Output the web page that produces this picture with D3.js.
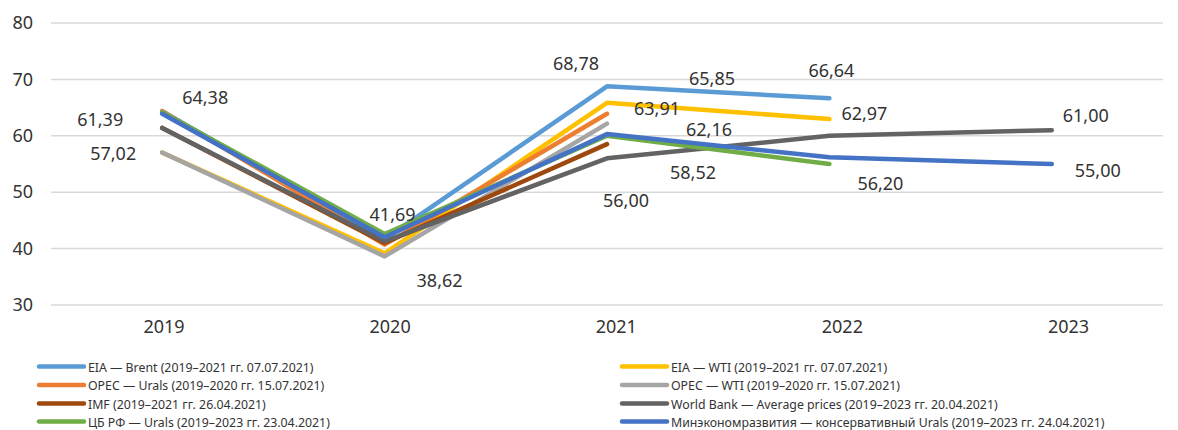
<!DOCTYPE html>
<html>
<head>
<meta charset="utf-8">
<script src="https://cdn.jsdelivr.net/npm/d3@7"></script>
<style>
    body { margin: 0; background: #fff; }
    #chart { width: 1178px; height: 430px; }
    text { font-family: "Noto Sans", "Open Sans", sans-serif; fill: #333; }
</style>
</head>
<body>
<div id="chart"></div>
<script>
// categories and tick labels
const years = ["2019", "2020", "2021", "2022", "2023"];
const yTicks = [30, 40, 50, 60, 70, 80];

// series values (null = no forecast for that year)
const eiaBrent   = [64.37, 41.69, 68.78, 66.64, null];
const eiaWti     = [57.02, 39.16, 65.85, 62.97, null];
const opecUrals  = [64.38, 40.70, 63.91, null, null];
const opecWti    = [57.04, 38.62, 62.16, null, null];
const imf        = [61.39, 41.00, 58.52, null, null];
const worldBank  = [61.39, 41.30, 56.00, 60.00, 61.00];
const cbr        = [64.20, 42.60, 60.00, 55.00, null];
const minek      = [63.90, 42.00, 60.30, 56.20, 55.00];

const seriesNames = [
    "EIA — Brent (2019–2021 гг. 07.07.2021)",
    "EIA — WTI (2019–2021 гг. 07.07.2021)",
    "OPEC — Urals (2019–2020 гг. 15.07.2021)",
    "OPEC — WTI (2019–2020 гг. 15.07.2021)",
    "IMF (2019–2021 гг. 26.04.2021)",
    "World Bank — Average prices (2019–2023 гг. 20.04.2021)",
    "ЦБ РФ — Urals (2019–2023 гг. 23.04.2021)",
    "Минэкономразвития — консервативный Urals (2019–2023 гг. 24.04.2021)"
];
const seriesValues = [eiaBrent, eiaWti, opecUrals, opecWti, imf, worldBank, cbr, minek];
const seriesColors = ["#5B9BD5", "#FFC000", "#ED7D31", "#A5A5A5", "#9E480E", "#636363", "#70AD47", "#4472C4"];

// which points carry a data label: [series index, year index]
const labelPoints = [
    [2, 0], [5, 0], [1, 0],
    [0, 1], [3, 1],
    [0, 2], [1, 2], [2, 2], [3, 2], [4, 2], [5, 2],
    [0, 3], [1, 3], [7, 3],
    [5, 4], [7, 4]
];
// label offsets from their point, px
const labelOffsets = [
    [43, -14], [-62, -9], [-49, 0],
    [8, -25], [55, 24],
    [-31, -23], [105, -25], [50, -6], [102, 5], [86, 28], [19, 42],
    [2, -28], [35, -6], [51, 26],
    [34, -15], [46, 6]
];

// legend layout: left column then right column
const legendOrder = [[0, 2, 4, 6], [1, 3, 5, 7]];

class LineVis {
    constructor(parentElement) {
        this.parentElement = parentElement;
        this.initVis();
    }

    initVis() {
        let vis = this;

        vis.margin = {top: 23, right: 15, bottom: 125, left: 51};
        vis.width = 1178 - vis.margin.left - vis.margin.right;
        vis.height = 430 - vis.margin.top - vis.margin.bottom;

        vis.root = d3.select(vis.parentElement).append("svg")
            .attr("width", 1178)
            .attr("height", 430);

        vis.svg = vis.root.append("g")
            .attr("transform", `translate (${vis.margin.left}, ${vis.margin.top})`);

        vis.x = d3.scaleBand()
            .domain(years)
            .range([0, vis.width])
            .padding(0);

        // category labels sit a little wider apart than the points in the original
        vis.xLabels = d3.scalePoint()
            .domain(years)
            .range([112.5, 1017]);

        vis.y = d3.scaleLinear()
            .domain([30, 80])
            .range([vis.height, 0]);

        // gridlines
        vis.svg.append("g")
            .selectAll("line")
            .data(yTicks)
            .enter()
            .append("line")
            .attr("x1", 0)
            .attr("x2", vis.width)
            .attr("y1", d => vis.y(d))
            .attr("y2", d => vis.y(d))
            .attr("stroke", "#d9d9d9")
            .attr("stroke-width", 1.5);

        // y axis labels
        let yAxis = vis.svg.append("g")
            .call(d3.axisLeft(vis.y).tickValues(yTicks).tickSize(0).tickPadding(18));
        yAxis.select(".domain").remove();
        yAxis.selectAll("text")
            .style("font-size", "18px")
            .style("font-family", "Noto Sans")
            .attr("fill", "#333");

        // x axis labels
        let xAxis = vis.svg.append("g")
            .attr("transform", `translate(0, ${vis.height})`)
            .call(d3.axisBottom(vis.xLabels).tickSize(0).tickPadding(15));
        xAxis.select(".domain").remove();
        xAxis.selectAll("text")
            .style("font-size", "18px")
            .style("font-family", "Noto Sans")
            .attr("fill", "#333");

        vis.line = d3.line()
            .defined(d => d != null)
            .x((d, i) => vis.x(years[i]) + vis.x.bandwidth() / 2)
            .y(d => vis.y(d));

        vis.svg.selectAll(".series")
            .data(seriesValues)
            .enter()
            .append("path")
            .attr("class", "series")
            .attr("d", d => vis.line(d))
            .attr("fill", "none")
            .attr("stroke", (d, i) => seriesColors[i])
            .attr("stroke-width", 4.5)
            .attr("stroke-linejoin", "round")
            .attr("stroke-linecap", "round");

        // data labels
        vis.svg.selectAll(".data-label")
            .data(labelPoints)
            .enter()
            .append("text")
            .attr("class", "data-label")
            .attr("x", (d, i) => vis.x(years[d[1]]) + vis.x.bandwidth() / 2 + labelOffsets[i][0])
            .attr("y", (d, i) => vis.y(seriesValues[d[0]][d[1]]) + labelOffsets[i][1])
            .attr("text-anchor", "middle")
            .attr("dominant-baseline", "central")
            .style("font-size", "18px")
            .text(d => seriesValues[d[0]][d[1]].toFixed(2).replace(".", ","));

        // legend
        let colX = [39, 622];
        let rowY = [366.5, 385, 403.5, 421.5];
        legendOrder.forEach((col, c) => {
            let g = vis.root.append("g");
            let items = g.selectAll("g")
                .data(col)
                .enter()
                .append("g")
                .attr("transform", (d, r) => `translate(${colX[c]}, ${rowY[r]})`);
            items.append("line")
                .attr("x1", 0)
                .attr("x2", 45)
                .attr("stroke", d => seriesColors[d])
                .attr("stroke-width", 4.5)
                .attr("stroke-linecap", "round");
            // narrow the text a bit, the original uses a condensed face
            items.append("text")
                .attr("transform", "translate(49, 0) scale(0.92, 1)")
                .attr("dominant-baseline", "central")
                .style("font-size", "13.4px")
                .text(d => seriesNames[d]);
        });
    }
}

new LineVis(document.getElementById("chart"));
</script>
</body>
</html>
